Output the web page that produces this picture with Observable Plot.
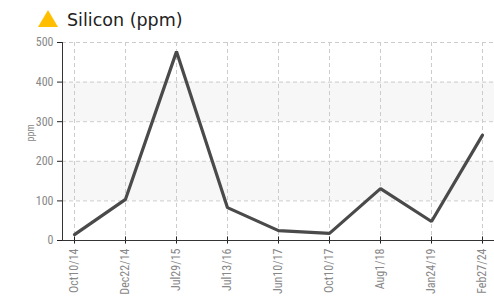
<!DOCTYPE html>
<html><head><meta charset="utf-8">
<script src="https://cdn.jsdelivr.net/npm/d3@7"></script>
<script src="https://cdn.jsdelivr.net/npm/@observablehq/plot@0.6"></script>
<style>
body{margin:0;background:#fff;}
#title{height:30px;position:relative;font-family:"DejaVu Sans",Verdana,sans-serif;font-size:17.5px;color:#222;}
#title svg{position:absolute;left:38px;top:10px;}
#title span{position:absolute;left:67px;top:10px;}
</style>
</head><body>
<div id="title"><svg width="20" height="17"><polygon points="10,0 20,17 0,17" fill="#FFBF00"/></svg><span>Silicon (ppm)</span></div>
<div id="chart"></div>
<script>
const dates = ["Oct10/14","Dec22/14","Jul29/15","Jul13/16","Jun10/17","Oct10/17","Aug1/18","Jan24/19","Feb27/24"];
const values = [15, 104, 477, 83, 25, 18, 131, 48, 266];
const yTicks = [0,100,200,300,400,500];
const bands = [[100,200],[300,400]];
const data = dates.map((d,i)=>({date:d, value:values[i]}));
const bandData = bands.map(([a,b])=>({a,b}));
const chart = Plot.plot({
  width:494, height:268,
  marginLeft:62, marginRight:0, marginTop:12, marginBottom:58,
  style:{fontFamily:"'Roboto Condensed','Liberation Sans Narrow',Roboto,sans-serif", fontSize:"12px", color:"#888"},
  x:{type:"point", domain:dates, padding:0.235, label:null},
  y:{domain:[0,500], ticks:yTicks, label:null},
  marks:[
    Plot.rect(bandData,{y1:"a", y2:"b", fill:"#f7f7f7"}),
    Plot.gridY(yTicks,{stroke:"#ccc", strokeOpacity:1, strokeDasharray:"4,3"}),
    Plot.gridX(dates,{stroke:"#ccc", strokeOpacity:1, strokeDasharray:"4,3"}),
    Plot.axisY({ticks:yTicks, tickSize:5, fill:"#888", stroke:"#222", fontSize:12, label:null}),
    Plot.axisX({tickSize:0, tickRotate:-90, fill:"#888", fontSize:12, tickPadding:8, label:null}),
    Plot.ruleX(dates,{x:d=>d, y1:-9, y2:9, stroke:"#222"}),
    Plot.ruleY([0],{stroke:"#333"}),
    Plot.frame({anchor:"left", stroke:"#333"}),
    Plot.text(["ppm"],{frameAnchor:"left", dx:-32, rotate:-90, fill:"#888", fontSize:10}),
    Plot.line(data,{x:"date", y:"value", stroke:"#4a4a4a", strokeWidth:3.2, strokeLinejoin:"miter"})
  ]
});
document.getElementById("chart").appendChild(chart);
</script>
</body></html>
